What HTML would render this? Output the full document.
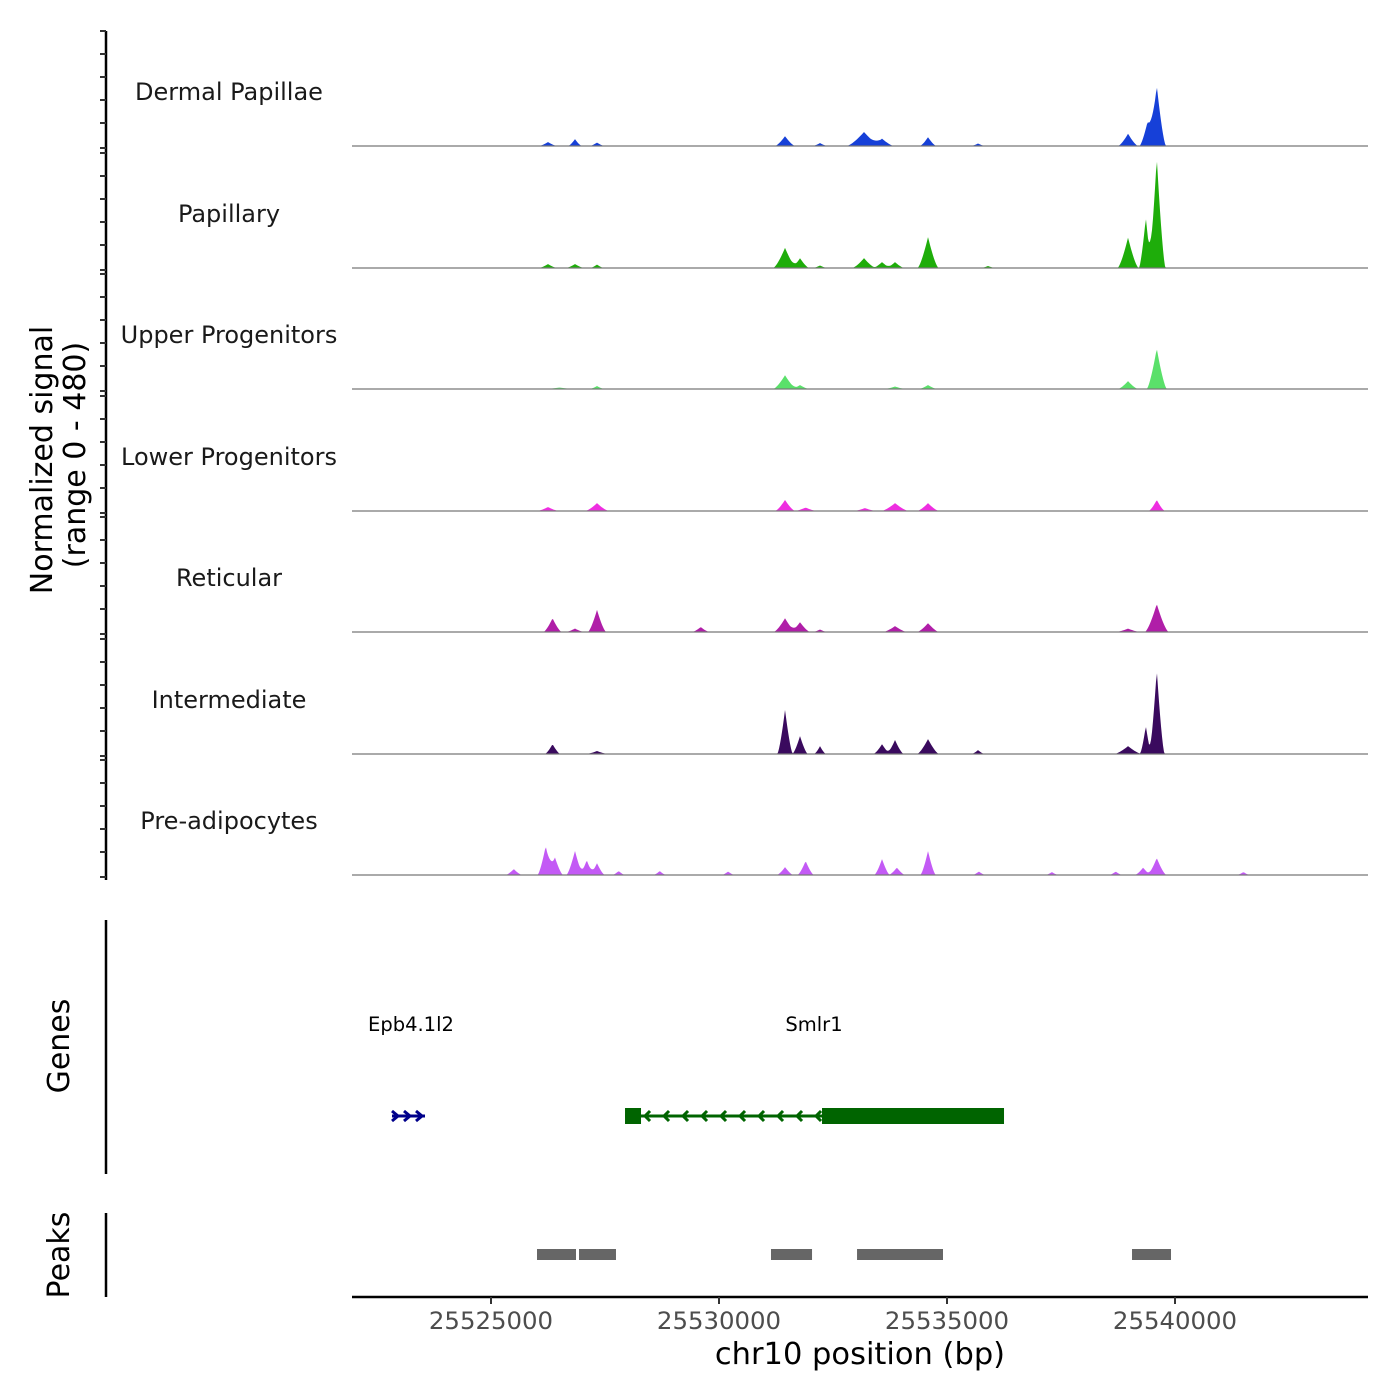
<!DOCTYPE html>
<html><head><meta charset="utf-8">
<style>
html,body{margin:0;padding:0;background:#fff;}
svg{display:block;font-family:"DejaVu Sans","Liberation Sans",sans-serif;}
</style></head>
<body>
<svg id="chart" width="1400" height="1400" viewBox="0 0 1400 1400"></svg>
<script>
// ---- data ----
const trackNames = ["Dermal Papillae","Papillary","Upper Progenitors","Lower Progenitors","Reticular","Intermediate","Pre-adipocytes"];
const trackColors = ["#1640d8","#1ead0a","#5ae06a","#ee2ee0","#b01ea8","#3a0a5e","#c35af5"];
// peaks per track: [position bp, signal (0-480), half-width bp]
const peaksDP = [[25539600,245,200],[25539400,100,180],[25538970,50,220],[25533180,57,380],[25531448,40,220],[25533575,30,260],[25534584,36,180],[25526842,28,150],[25526250,16,200],[25527325,14,160],[25532215,12,160],[25535680,10,160]];
const peaksPap = [[25539600,448,190],[25539360,205,150],[25538970,124,230],[25534584,126,230],[25531448,82,260],[25531777,40,200],[25533180,40,260],[25533575,24,200],[25533860,24,200],[25526842,16,200],[25526250,16,200],[25527325,14,150],[25532215,10,160],[25535900,8,160]];
const peaksUP = [[25539600,165,220],[25538970,32,220],[25531448,56,260],[25531777,16,200],[25534584,16,200],[25533860,10,240],[25527325,12,160],[25526500,6,300]];
const peaksLP = [[25539600,45,180],[25531448,45,220],[25527325,32,260],[25533860,32,300],[25534584,32,240],[25526250,16,240],[25531900,14,240],[25533200,12,240]];
const peaksRet = [[25539600,114,260],[25527325,90,200],[25526350,56,200],[25531448,56,250],[25531777,40,220],[25534584,36,240],[25533860,24,260],[25529600,20,190],[25526842,14,200],[25532215,10,160],[25538970,14,260]];
const peaksInt = [[25539600,342,170],[25539360,114,130],[25538970,32,300],[25531448,180,170],[25531777,73,170],[25532215,32,130],[25533575,40,190],[25533860,57,190],[25534584,61,240],[25526350,40,170],[25527325,12,240],[25535680,16,140]];
const peaksPre = [[25526200,118,180],[25526400,73,180],[25526842,98,190],[25527100,60,170],[25527325,48,170],[25525500,24,180],[25531900,57,180],[25531448,32,180],[25533575,65,170],[25533900,30,180],[25534584,98,170],[25539600,69,210],[25539300,30,180],[25527800,16,140],[25528700,16,140],[25530200,14,140],[25535700,14,140],[25537300,12,140],[25538700,14,140],[25541500,12,140]];
const trackPeaks = [peaksDP,peaksPap,peaksUP,peaksLP,peaksRet,peaksInt,peaksPre];
const xTicks = [25525000,25530000,25535000,25540000];
const geneNames = ["Epb4.1l2","Smlr1"];
const geneStarts = [25522829,25527939];
const geneEnds = [25523553,25536250];
const geneStrand = ["+","-"];
const smlr1Exons = [[25527939,25528290],[25532259,25536250]];
const peakStarts = [25526009,25526930,25531140,25533027,25539057];
const peakEnds = [25526864,25527741,25532040,25534912,25539912];
// ---- scales ----
const X0=352,X1=1368,BP0=25521952,BP1=25544232;
const xs=bp=>X0+(bp-BP0)/(BP1-BP0)*(X1-X0);
const bases=[146,268,389,511,632,754,875];
const ys=(v,base)=>base - v/480*118;
const NS="http://www.w3.org/2000/svg";
const svg=document.getElementById('chart');
function mk(tag,attrs,parent){const e=document.createElementNS(NS,tag);for(const k in attrs)e.setAttribute(k,attrs[k]);(parent||svg).appendChild(e);return e;}
// left y axis
const ax=mk('g',{});


mk('line',{x1:106,y1:31,x2:106,y2:880,stroke:'#000','stroke-width':2.5},ax);
bases.forEach(b=>{const top=b-115;for(let k=0;k<5;k++){mk('line',{x1:100,x2:106,y1:top+k*23,y2:top+k*23,stroke:'#333','stroke-width':2},ax);}mk('line',{x1:100,x2:106,y1:b+2,y2:b+2,stroke:'#333','stroke-width':2},ax);});
// tracks
trackNames.forEach((name,i)=>{
  const g=mk('g',{});
  
  
  const base=bases[i];
  const t=mk('text',{x:229,y:base-46,'text-anchor':'middle','font-size':24,fill:'#1a1a1a'},g);
  t.textContent=name;
  
  
  const peaks=trackPeaks[i];
  let d='M'+X0+','+base;
  for(let px=X0;px<=X1;px+=1){
    const bp=BP0+(px-X0)/(X1-X0)*(BP1-BP0);
    let v=0;
    peaks.forEach(p=>{const dd=Math.abs(bp-p[0]);if(dd<p[2]){const s=p[1]*Math.pow(1-dd/p[2],1.4);v+=s;}});
    d+=' L'+px+','+ys(v,base).toFixed(2);
  }
  d+=' L'+X1+','+base+' Z';
  const a=mk('path',{d:d,fill:trackColors[i]},g);
  
  
  mk('line',{x1:X0,x2:X1,y1:base,y2:base,stroke:'#777','stroke-width':1.2},g);
});
// y title
const yt=mk('text',{transform:'translate(52,460) rotate(-90)','text-anchor':'middle','font-size':30,fill:'#000'});
yt.textContent='Normalized signal';


const yt2=mk('text',{transform:'translate(85,455) rotate(-90)','text-anchor':'middle','font-size':30,fill:'#000'});
yt2.textContent='(range 0 - 480)';


// genes panel
mk('line',{x1:106,y1:920,x2:106,y2:1174,stroke:'#000','stroke-width':2.5});
const gt=mk('text',{transform:'translate(69,1046) rotate(-90)','text-anchor':'middle','font-size':30,fill:'#000'});
gt.textContent='Genes';


const gy=1116;
geneNames.forEach((n,i)=>{
  const g=mk('g',{});
  
  
  const x1=xs(geneStarts[i]),x2=xs(geneEnds[i]);
  const col=geneStrand[i]=='+'?'#00008b':'#006400';
  const lb=mk('text',{x:i==0?368:814,y:1031,'text-anchor':i==0?'start':'middle','font-size':19.5,fill:'#000'},g);
  lb.textContent=n;
  
  
  mk('line',{x1:x1,x2:x2,y1:gy,y2:gy,stroke:col,'stroke-width':3},g);
  if(geneStrand[i]=='+'){
    for(let x=x1;x<=x2-8;x+=12){mk('polyline',{points:(x)+','+(gy-5)+' '+(x+6)+','+gy+' '+x+','+(gy+5),fill:'none',stroke:col,'stroke-width':3},g);}
  } else {
    smlr1Exons.forEach(e=>{mk('rect',{x:xs(e[0]),y:gy-8,width:xs(e[1])-xs(e[0]),height:16,fill:col},g);});
    const a0=xs(smlr1Exons[0][1]),a1=xs(smlr1Exons[1][0]);
    for(let x=a0+4;x<a1;x+=19){mk('polyline',{points:(x+5)+','+(gy-5)+' '+x+','+gy+' '+(x+5)+','+(gy+5),fill:'none',stroke:col,'stroke-width':3},g);}
  }
});
// peaks panel
mk('line',{x1:106,y1:1213,x2:106,y2:1297,stroke:'#000','stroke-width':2.5});
const pt=mk('text',{transform:'translate(69,1255) rotate(-90)','text-anchor':'middle','font-size':30,fill:'#000'});
pt.textContent='Peaks';


peakStarts.forEach((s,i)=>{
  const r=mk('rect',{x:xs(s),y:1249,width:xs(peakEnds[i])-xs(s),height:11,fill:'#666'});
  
  
});
// x axis
const xa=mk('g',{});


mk('line',{x1:X0,x2:X1,y1:1297,y2:1297,stroke:'#000','stroke-width':2.5},xa);
xTicks.forEach(t=>{
  const x=xs(t);
  mk('line',{x1:x,x2:x,y1:1297,y2:1304,stroke:'#333','stroke-width':2},xa);
  const tx=mk('text',{x:x,y:1329,'text-anchor':'middle','font-size':24.4,fill:'#4d4d4d'},xa);
  tx.textContent=t;
  
  
});
const xt=mk('text',{x:860,y:1364,'text-anchor':'middle','font-size':30.5,fill:'#000'});
xt.textContent='chr10 position (bp)';


</script>
</body></html>
